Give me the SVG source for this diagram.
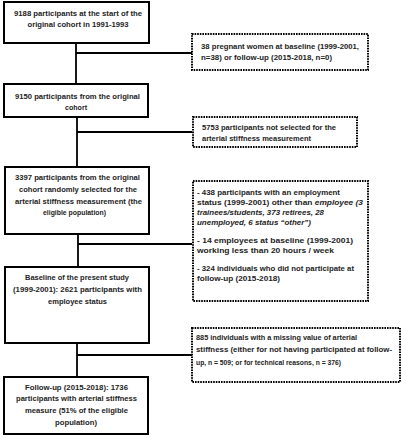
<svg xmlns="http://www.w3.org/2000/svg" width="401" height="440" viewBox="0 0 401 440">
<style>
.box{fill:#fff;stroke:#000;stroke-width:2}
.dbox{fill:#fff;stroke:#000;stroke-width:2;stroke-dasharray:1.6 1}
.ln{stroke:#000;stroke-width:1.8;fill:none}
text{font-family:"Liberation Sans",Arial,sans-serif;font-size:8px;font-weight:bold;fill:#222}
.c{text-anchor:middle}
.i{font-style:italic}
</style>
<rect width="401" height="440" fill="#fff"/>
<g id="connectors">
<path class="ln" d="M76 43V84M76 53H192M77 117V167M77 132H192M78 234V267M78 244H192M77 343V377M77 355H192"/>
</g>
<g id="n1">
<rect class="box" x="4" y="2" width="145" height="41"/>
<text class="c" x="78" y="16" textLength="128" lengthAdjust="spacingAndGlyphs">9188 participants at the start of the</text>
<text class="c" x="78" y="27" textLength="101" lengthAdjust="spacingAndGlyphs">original cohort in 1991-1993</text>
</g>
<g id="d1">
<rect class="dbox" x="192" y="34" width="176" height="36"/>
<text x="201" y="49" textLength="158" lengthAdjust="spacingAndGlyphs">38 pregnant women at baseline (1999-2001,</text>
<text x="201" y="60" textLength="131" lengthAdjust="spacingAndGlyphs">n=38) or follow-up (2015-2018, n=0)</text>
</g>
<g id="n2">
<rect class="box" x="4" y="84" width="144" height="33"/>
<text class="c" x="77.5" y="99" textLength="125" lengthAdjust="spacingAndGlyphs">9150 participants from the original</text>
<text class="c" x="76" y="110" textLength="22" lengthAdjust="spacingAndGlyphs">cohort</text>
</g>
<g id="d2">
<rect class="dbox" x="193" y="117" width="164" height="30"/>
<text x="202" y="130" textLength="134" lengthAdjust="spacingAndGlyphs">5753 participants not selected for the</text>
<text x="202" y="141" textLength="109" lengthAdjust="spacingAndGlyphs">arterial stiffness measurement</text>
</g>
<g id="n3">
<rect class="box" x="5" y="167" width="144" height="67"/>
<text class="c" x="77.5" y="180" textLength="125" lengthAdjust="spacingAndGlyphs">3397 participants from the original</text>
<text class="c" x="78" y="192" textLength="118" lengthAdjust="spacingAndGlyphs">cohort randomly selected for the</text>
<text class="c" x="78.5" y="204" textLength="127" lengthAdjust="spacingAndGlyphs">arterial stiffness measurement (the</text>
<text class="c" x="74.5" y="215" textLength="63" lengthAdjust="spacingAndGlyphs">eligible population)</text>
</g>
<g id="d3">
<rect class="dbox" x="193" y="181" width="175" height="120"/>
<text x="197" y="195" textLength="143" lengthAdjust="spacingAndGlyphs">- 438 participants with an employment</text>
<text x="197" y="205" textLength="166" lengthAdjust="spacingAndGlyphs">status (1999-2001) other than <tspan class="i">employee (3</tspan></text>
<text class="i" x="197" y="215" textLength="127" lengthAdjust="spacingAndGlyphs">trainees/students, 373 retirees, 28</text>
<text class="i" x="197" y="225" textLength="114" lengthAdjust="spacingAndGlyphs">unemployed, 6 status “other”)</text>
<text x="197" y="243" textLength="156" lengthAdjust="spacingAndGlyphs">- 14 employees at baseline (1999-2001)</text>
<text x="197" y="253" textLength="137" lengthAdjust="spacingAndGlyphs">working less than 20 hours / week</text>
<text x="197" y="271" textLength="157" lengthAdjust="spacingAndGlyphs">- 324 individuals who did not participate at</text>
<text x="197" y="281" textLength="83" lengthAdjust="spacingAndGlyphs">follow-up (2015-2018)</text>
</g>
<g id="n4">
<rect class="box" x="5" y="267" width="144" height="76"/>
<text class="c" x="77" y="280" textLength="104" lengthAdjust="spacingAndGlyphs">Baseline of the present study</text>
<text class="c" x="77.5" y="292" textLength="129" lengthAdjust="spacingAndGlyphs">(1999-2001): 2621 participants with</text>
<text class="c" x="77.5" y="304" textLength="59" lengthAdjust="spacingAndGlyphs">employee status</text>
</g>
<g id="d4">
<rect class="dbox" x="192" y="328" width="208" height="54"/>
<text x="196" y="340" textLength="161" lengthAdjust="spacingAndGlyphs">885 individuals with a missing value of arterial</text>
<text x="196" y="352" textLength="196" lengthAdjust="spacingAndGlyphs">stiffness (either for not having participated at follow-</text>
<text x="196" y="365" textLength="145" lengthAdjust="spacingAndGlyphs">up, n = 509; or for technical reasons, n = 376)</text>
</g>
<g id="n5">
<rect class="box" x="4" y="377" width="144" height="57"/>
<text class="c" x="76.5" y="390" textLength="103" lengthAdjust="spacingAndGlyphs">Follow-up (2015-2018): 1736</text>
<text class="c" x="76.5" y="401" textLength="121" lengthAdjust="spacingAndGlyphs">participants with arterial stiffness</text>
<text class="c" x="76.5" y="413" textLength="103" lengthAdjust="spacingAndGlyphs">measure (51% of the eligible</text>
<text class="c" x="76" y="425" textLength="42" lengthAdjust="spacingAndGlyphs">population)</text>
</g>
</svg>
